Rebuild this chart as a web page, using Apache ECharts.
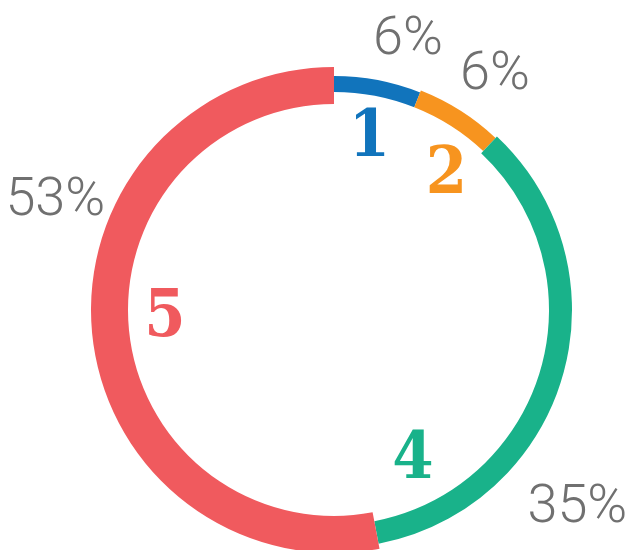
<!DOCTYPE html>
<html>
<head>
<meta charset="utf-8">
<script src="https://cdn.jsdelivr.net/npm/echarts@6/dist/echarts.min.js"></script>
<style>html,body{margin:0;padding:0;background:#fff}#c{width:627px;height:550px}</style>
</head>
<body>
<div id="c"></div>
<script>
// ---- data ----
var categories = ['1', '2', '4', '5'];
var values = [6, 6, 35, 53];

// ---- styles ----
var colors = ['#1174BC', '#F7941F', '#19B28A', '#F05A5E'];
var ringRadii = [[218, 234], [218, 236], [215, 238], [206, 243]];
var numberShift = [[2, 4], [17, 16], [-92, 101], [8, -8]];
var percentShift = [[19, 18], [4, 13], [-38, 117], [13, -136]];
var center = [334, 310];

var chart = echarts.init(document.getElementById('c'), null, {renderer: 'canvas'});

function baseData(ownIndex) {
  return categories.map(function (c, i) {
    return {
      name: c,
      value: values[i],
      itemStyle: {color: (ownIndex === i) ? colors[i] : 'rgba(0,0,0,0)'}
    };
  });
}

var series = [];
categories.forEach(function (c, k) {
  series.push({
    type: 'pie',
    silent: true,
    center: center,
    radius: ringRadii[k],
    startAngle: 90,
    clockwise: true,
    animation: false,
    label: {show: false},
    labelLine: {show: false},
    itemStyle: {borderWidth: 0},
    data: baseData(k)
  });
});

// category number labels
series.push({
  type: 'pie',
  silent: true,
  center: center,
  radius: [0, 350],
  startAngle: 90,
  clockwise: true,
  animation: false,
  labelLine: {show: false},
  label: {
    show: true,
    position: 'inside',
    formatter: '{b}',
    fontFamily: '"DejaVu Serif Condensed", "DejaVu Serif"',
    fontWeight: 'bold',
    fontSize: 66
  },
  labelLayout: function (p) {
    return {dx: numberShift[p.dataIndex][0], dy: numberShift[p.dataIndex][1]};
  },
  data: categories.map(function (c, i) {
    return {name: c, value: values[i], itemStyle: {color: 'rgba(0,0,0,0)'}, label: {color: colors[i]}};
  })
});

// percentage labels
series.push({
  type: 'pie',
  silent: true,
  center: center,
  radius: [0, 580],
  startAngle: 90,
  clockwise: true,
  animation: false,
  labelLine: {show: false},
  label: {
    show: true,
    position: 'inside',
    formatter: '{d}%',
    fontFamily: 'Roboto',
    fontWeight: 300,
    fontSize: 54,
    color: '#707070'
  },
  labelLayout: function (p) {
    return {dx: percentShift[p.dataIndex][0], dy: percentShift[p.dataIndex][1]};
  },
  data: categories.map(function (c, i) {
    return {name: c, value: values[i], itemStyle: {color: 'rgba(0,0,0,0)'}};
  })
});

chart.setOption({
  animation: false,
  backgroundColor: '#ffffff',
  series: series
});
</script>
</body>
</html>
